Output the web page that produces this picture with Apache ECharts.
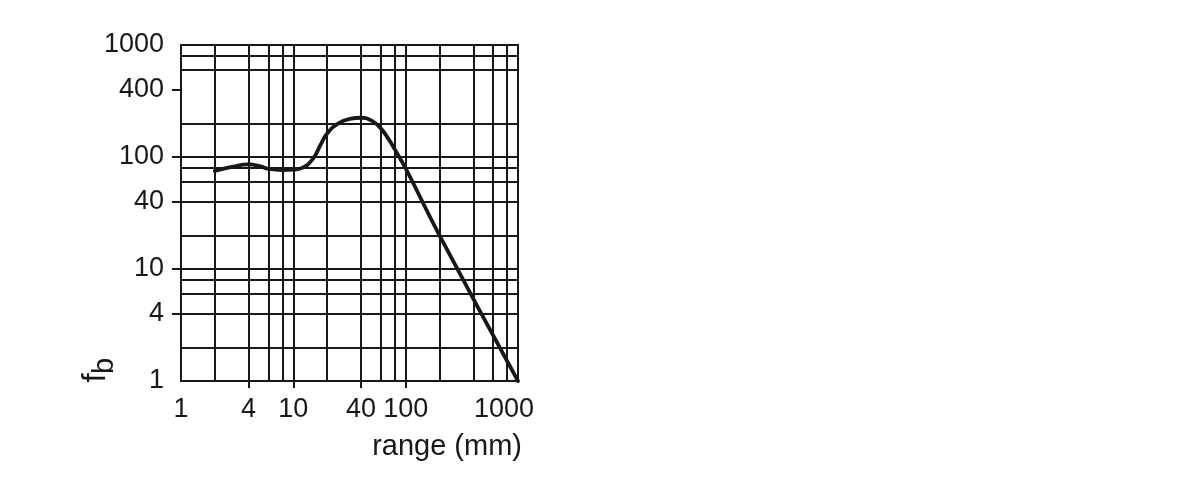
<!DOCTYPE html>
<html>
<head>
<meta charset="utf-8">
<script src="https://cdn.jsdelivr.net/npm/echarts@6/dist/echarts.min.js"></script>
<style>
html,body{margin:0;padding:0;background:#ffffff;}
#chart{width:1199px;height:496px;}
</style>
</head>
<body>
<div id="chart"></div>
<script>
// ---- data ----
const rangeMm  = [2, 2.9, 4, 5, 6, 8, 10, 12, 15, 17.3, 20, 25.2, 31.8, 40, 49.7, 60, 70.3, 80, 100, 200, 1000];
const fbValues = [75, 82, 86, 83, 78.5, 76.5, 77, 80, 97, 126, 162, 200, 219, 224, 211, 180, 145, 117, 79, 20, 1];

const xGridValues = [2, 4, 6, 8, 10, 20, 40, 60, 80, 100, 200, 400, 600, 800];
const yGridValues = [2, 4, 6, 8, 10, 20, 40, 60, 80, 100, 200, 600, 800];
const xTickLabels = [1, 4, 10, 40, 100, 1000];
const yTickLabels = [1, 4, 10, 40, 100, 400, 1000];
const xTickMarks  = [4, 10, 40, 100];
const yTickMarks  = [4, 10, 40, 100, 400];
const xAxisTitle = 'range (mm)';

const INK = '#1a1718';
const FONT = '"Liberation Sans", Arial, Helvetica, sans-serif';

const chart = echarts.init(document.getElementById('chart'), null, {renderer: 'canvas'});

const points = rangeMm.map((x, i) => [x, fbValues[i]]);
const maxX = xTickLabels[xTickLabels.length - 1];

const option = {
  animation: false,
  backgroundColor: '#ffffff',
  grid: {
    left: 181, right: 681, top: 45, bottom: 115,
    show: true, borderColor: INK, borderWidth: 2, backgroundColor: 'transparent'
  },
  xAxis: {
    type: 'log', logBase: 10, min: 1, max: 1000,
    axisLine: {show: true, lineStyle: {color: INK, width: 2}},
    axisTick: {show: true, customValues: xTickMarks, length: 7, inside: false, lineStyle: {color: INK, width: 2}},
    axisLabel: {
      show: true, customValues: xTickLabels, color: INK, fontSize: 27, fontFamily: FONT, margin: 15,
      formatter: function (v) {
        const s = String(Math.round(v));
        return Math.round(v) === maxX ? '{last|' + s + '}' : s;
      },
      rich: {last: {fontSize: 27, fontFamily: FONT, color: INK, padding: [0, 28, 0, 0]}}
    },
    splitLine: {show: false},
    minorTick: {show: false}, minorSplitLine: {show: false}
  },
  yAxis: {
    type: 'log', logBase: 10, min: 1, max: 1000,
    axisLine: {show: true, lineStyle: {color: INK, width: 2}},
    axisTick: {show: true, customValues: yTickMarks, length: 9, inside: false, lineStyle: {color: INK, width: 2}},
    axisLabel: {
      show: true, customValues: yTickLabels, color: INK, fontSize: 27, fontFamily: FONT, margin: 17,
      formatter: function (v) { return String(Math.round(v)); }
    },
    splitLine: {show: false},
    minorTick: {show: false}, minorSplitLine: {show: false}
  },
  series: [
    {
      name: 'grid', type: 'line', data: [], silent: true, z: 1,
      markLine: {
        silent: true, symbol: ['none', 'none'], animation: false,
        label: {show: false},
        lineStyle: {color: INK, width: 2, type: 'solid'},
        emphasis: {disabled: true},
        data: xGridValues.map(v => ({xAxis: v})).concat(yGridValues.map(v => ({yAxis: v})))
      }
    },
    {
      name: 'fb', type: 'line', data: points, smooth: 0.5, showSymbol: false, symbol: 'none',
      z: 5, clip: false,
      lineStyle: {color: INK, width: 3.8, cap: 'round', join: 'round'}
    }
  ],
  graphic: [
    {
      type: 'text', x: 522, y: 447, z: 10,
      style: {text: xAxisTitle, fill: INK, font: '29px ' + FONT, align: 'right', verticalAlign: 'middle'}
    },
    {
      type: 'text', x: 96, y: 378, rotation: Math.PI / 2, z: 10,
      style: {text: 'f', fill: INK, font: '33px ' + FONT, align: 'center', verticalAlign: 'middle'}
    },
    {
      type: 'text', x: 105, y: 366, rotation: Math.PI / 2, z: 10,
      style: {text: 'b', fill: INK, font: '29px ' + FONT, align: 'center', verticalAlign: 'middle'}
    }
  ]
};

chart.setOption(option);
</script>
</body>
</html>
